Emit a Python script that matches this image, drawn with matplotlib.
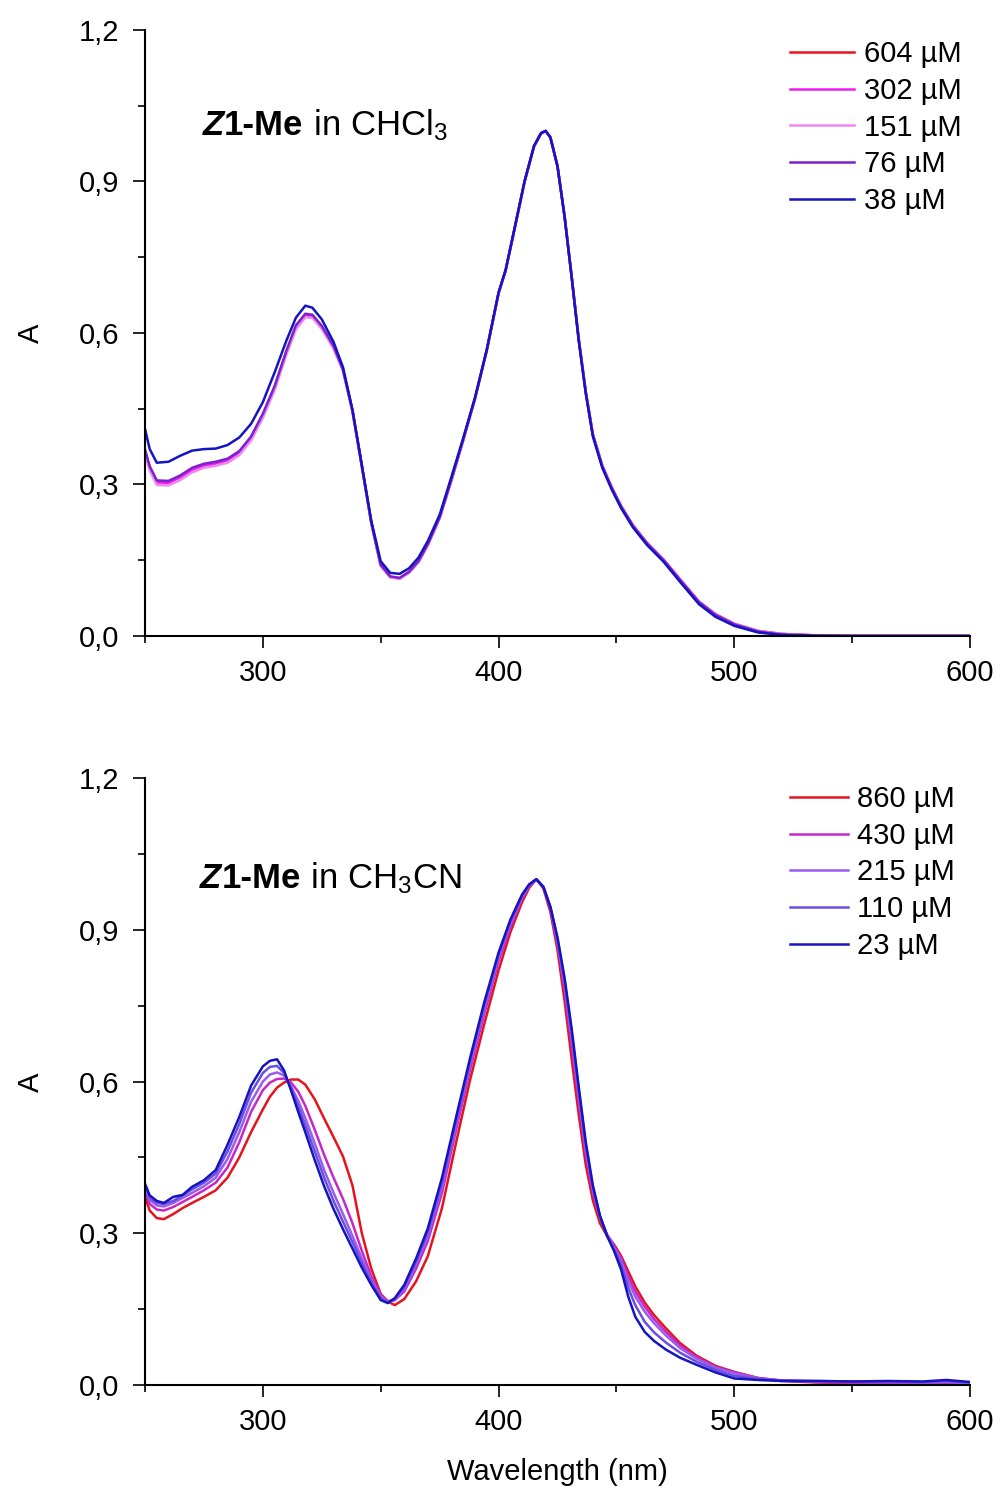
import matplotlib
matplotlib.use("Agg")
import matplotlib.pyplot as plt
from matplotlib.ticker import MultipleLocator, FuncFormatter
from matplotlib.offsetbox import TextArea, HPacker, AnchoredOffsetbox

plt.rcParams['font.family'] = ['Liberation Sans', 'DejaVu Sans']
plt.rcParams['mathtext.fontset'] = 'custom'
plt.rcParams['mathtext.rm'] = 'Liberation Sans'
plt.rcParams['mathtext.it'] = 'Liberation Sans:italic'
plt.rcParams['mathtext.bf'] = 'Liberation Sans:bold'

# ---- Z1-Me in CHCl3 (top panel) ----
wl_top = [250, 252, 255, 260, 265, 270, 275, 280, 285, 290, 295, 300, 305, 310, 314, 318,
          321, 325, 330, 334, 338, 342, 346, 350, 354, 358, 362, 366, 370, 375, 380, 385,
          390, 395, 400, 403, 407, 411, 415, 418, 420, 422, 425, 428, 431, 434, 437, 440,
          444, 448, 452, 457, 463, 470, 477, 485, 492, 500, 510, 520, 535, 550, 575, 600]

top_604 = [0.367, 0.333, 0.305, 0.304, 0.315, 0.330, 0.338, 0.342, 0.348, 0.363, 0.392, 0.437,
           0.492, 0.562, 0.612, 0.636, 0.634, 0.612, 0.572, 0.527, 0.446, 0.336, 0.224, 0.140,
           0.117, 0.114, 0.126, 0.147, 0.181, 0.234, 0.309, 0.388, 0.470, 0.566, 0.679, 0.724,
           0.811, 0.899, 0.969, 0.995, 1.000, 0.987, 0.930, 0.831, 0.712, 0.588, 0.483, 0.399,
           0.337, 0.294, 0.257, 0.219, 0.184, 0.151, 0.112, 0.068, 0.043, 0.024, 0.010, 0.004,
           0.001, 0.000, 0.000, 0.000]
top_302 = [0.366, 0.332, 0.304, 0.303, 0.314, 0.329, 0.337, 0.341, 0.347, 0.362, 0.391, 0.436,
           0.491, 0.561, 0.611, 0.635, 0.633, 0.611, 0.571, 0.526, 0.446, 0.336, 0.224, 0.140,
           0.117, 0.114, 0.126, 0.147, 0.181, 0.234, 0.309, 0.388, 0.470, 0.566, 0.679, 0.724,
           0.811, 0.899, 0.969, 0.995, 1.000, 0.987, 0.930, 0.831, 0.712, 0.588, 0.483, 0.399,
           0.337, 0.294, 0.257, 0.219, 0.184, 0.151, 0.112, 0.068, 0.043, 0.024, 0.010, 0.004,
           0.001, 0.000, 0.000, 0.000]
top_151 = [0.362, 0.328, 0.299, 0.298, 0.309, 0.324, 0.333, 0.337, 0.343, 0.358, 0.387, 0.432,
           0.487, 0.557, 0.607, 0.631, 0.630, 0.608, 0.569, 0.525, 0.445, 0.335, 0.223, 0.139,
           0.116, 0.113, 0.125, 0.146, 0.180, 0.233, 0.308, 0.387, 0.469, 0.565, 0.678, 0.723,
           0.810, 0.898, 0.968, 0.995, 1.000, 0.987, 0.930, 0.831, 0.712, 0.588, 0.483, 0.399,
           0.337, 0.294, 0.257, 0.219, 0.184, 0.151, 0.112, 0.068, 0.043, 0.024, 0.010, 0.004,
           0.001, 0.000, 0.000, 0.000]
top_76 = [0.369, 0.336, 0.308, 0.307, 0.318, 0.333, 0.341, 0.345, 0.351, 0.366, 0.395, 0.440,
          0.495, 0.565, 0.615, 0.638, 0.636, 0.614, 0.574, 0.528, 0.447, 0.337, 0.225, 0.141,
          0.118, 0.115, 0.127, 0.148, 0.182, 0.235, 0.310, 0.389, 0.471, 0.566, 0.679, 0.724,
          0.811, 0.899, 0.969, 0.995, 1.000, 0.987, 0.930, 0.831, 0.712, 0.587, 0.482, 0.398,
          0.336, 0.293, 0.256, 0.218, 0.183, 0.150, 0.111, 0.067, 0.042, 0.023, 0.009, 0.003,
          0.001, 0.000, 0.000, 0.000]
top_38 = [0.410, 0.370, 0.343, 0.345, 0.357, 0.367, 0.370, 0.371, 0.378, 0.393, 0.420, 0.463,
          0.522, 0.585, 0.630, 0.654, 0.650, 0.627, 0.582, 0.532, 0.448, 0.338, 0.228, 0.148,
          0.125, 0.123, 0.134, 0.155, 0.188, 0.240, 0.315, 0.392, 0.472, 0.567, 0.680, 0.725,
          0.812, 0.900, 0.970, 0.996, 1.000, 0.987, 0.930, 0.830, 0.710, 0.585, 0.480, 0.395,
          0.333, 0.290, 0.253, 0.215, 0.180, 0.147, 0.107, 0.063, 0.038, 0.020, 0.007, 0.002,
          0.000, 0.000, 0.000, 0.000]

top_labels = ['604 µM', '302 µM', '151 µM', '76 µM', '38 µM']
top_colors = ['#e5141c', '#f01cf0', '#ee88ee', '#7a22cc', '#1414c0']

# ---- Z1-Me in CH3CN (bottom panel) ----
wl_bot = [250, 252, 255, 258, 262, 266, 270, 275, 280, 285, 290, 295, 300, 303, 306, 309,
          312, 315, 318, 322, 326, 330, 334, 338, 342, 346, 350, 353, 356, 360, 365, 370,
          376, 382, 388, 394, 400, 405, 410, 413, 416, 419, 422, 425, 428, 431, 434, 437,
          440, 443, 446, 449, 452, 455, 458, 462, 466, 471, 477, 484, 492, 500, 510, 520,
          535, 550, 565, 580, 590, 600]

bot_860 = [0.372, 0.345, 0.330, 0.328, 0.338, 0.350, 0.360, 0.372, 0.385, 0.410, 0.450, 0.500,
           0.545, 0.570, 0.588, 0.598, 0.604, 0.604, 0.594, 0.565, 0.527, 0.490, 0.452, 0.395,
           0.300, 0.230, 0.180, 0.165, 0.158, 0.170, 0.205, 0.255, 0.350, 0.480, 0.605, 0.715,
           0.820, 0.895, 0.955, 0.983, 1.000, 0.982, 0.935, 0.860, 0.760, 0.645, 0.535, 0.435,
           0.365, 0.320, 0.295, 0.278, 0.255, 0.225, 0.195, 0.163, 0.138, 0.112, 0.083, 0.058,
           0.038, 0.026, 0.014, 0.008, 0.005, 0.004, 0.003, 0.003, 0.002, 0.002]
bot_430 = [0.385, 0.358, 0.347, 0.345, 0.352, 0.362, 0.372, 0.385, 0.400, 0.430, 0.480, 0.540,
           0.583, 0.598, 0.605, 0.606, 0.598, 0.580, 0.552, 0.505, 0.455, 0.410, 0.368, 0.320,
           0.265, 0.215, 0.178, 0.166, 0.168, 0.185, 0.230, 0.285, 0.380, 0.505, 0.625, 0.735,
           0.838, 0.905, 0.962, 0.986, 1.000, 0.985, 0.942, 0.872, 0.782, 0.672, 0.560, 0.455,
           0.380, 0.330, 0.298, 0.275, 0.250, 0.215, 0.185, 0.155, 0.130, 0.105, 0.078, 0.055,
           0.036, 0.025, 0.014, 0.009, 0.006, 0.005, 0.004, 0.004, 0.003, 0.003]
bot_215 = [0.392, 0.366, 0.355, 0.353, 0.360, 0.370, 0.380, 0.393, 0.410, 0.447, 0.500, 0.560,
           0.600, 0.614, 0.618, 0.612, 0.590, 0.562, 0.528, 0.478, 0.425, 0.380, 0.338, 0.295,
           0.250, 0.208, 0.174, 0.164, 0.168, 0.190, 0.238, 0.295, 0.392, 0.515, 0.635, 0.745,
           0.845, 0.912, 0.965, 0.988, 1.000, 0.985, 0.944, 0.878, 0.792, 0.688, 0.575, 0.467,
           0.387, 0.332, 0.297, 0.272, 0.245, 0.205, 0.175, 0.145, 0.122, 0.098, 0.073, 0.052,
           0.034, 0.023, 0.013, 0.009, 0.007, 0.006, 0.006, 0.005, 0.006, 0.004]
bot_110 = [0.395, 0.370, 0.360, 0.358, 0.364, 0.375, 0.387, 0.400, 0.418, 0.462, 0.516, 0.578,
           0.617, 0.629, 0.631, 0.617, 0.586, 0.551, 0.514, 0.462, 0.410, 0.364, 0.323, 0.283,
           0.241, 0.203, 0.171, 0.163, 0.170, 0.194, 0.244, 0.303, 0.401, 0.522, 0.642, 0.752,
           0.850, 0.916, 0.968, 0.989, 1.000, 0.985, 0.945, 0.882, 0.799, 0.697, 0.583, 0.474,
           0.391, 0.334, 0.296, 0.268, 0.238, 0.192, 0.158, 0.125, 0.104, 0.084, 0.064, 0.046,
           0.030, 0.018, 0.012, 0.009, 0.008, 0.007, 0.007, 0.006, 0.008, 0.005]
bot_23 = [0.398, 0.375, 0.364, 0.360, 0.372, 0.376, 0.392, 0.405, 0.425, 0.475, 0.530, 0.592,
          0.630, 0.641, 0.644, 0.622, 0.582, 0.540, 0.500, 0.445, 0.393, 0.348, 0.308, 0.270,
          0.232, 0.198, 0.168, 0.162, 0.172, 0.198, 0.250, 0.310, 0.410, 0.530, 0.648, 0.758,
          0.855, 0.920, 0.970, 0.990, 1.000, 0.985, 0.945, 0.885, 0.805, 0.705, 0.590, 0.480,
          0.395, 0.335, 0.295, 0.265, 0.228, 0.175, 0.135, 0.105, 0.087, 0.070, 0.054, 0.040,
          0.025, 0.013, 0.010, 0.008, 0.008, 0.007, 0.008, 0.007, 0.010, 0.006]

bot_labels = ['860 µM', '430 µM', '215 µM', '110 µM', '23 µM']
bot_colors = ['#e5141c', '#c826c8', '#9a5cf0', '#6a4ee0', '#1414c0']

FS = 21

fig = plt.figure(figsize=(10, 14.88), dpi=100)
ax1 = fig.add_axes([0.145, 0.5726, 0.825, 0.4073])
ax2 = fig.add_axes([0.145, 0.0692, 0.825, 0.4079])

for y, lab, col in zip([top_604, top_302, top_151, top_76, top_38], top_labels, top_colors):
    ax1.plot(wl_top, y, color=col, lw=1.8, label=lab)
for y, lab, col in zip([bot_860, bot_430, bot_215, bot_110, bot_23], bot_labels, bot_colors):
    ax2.plot(wl_bot, y, color=col, lw=1.8, label=lab)

comma = FuncFormatter(lambda v, p: ('%.1f' % v).replace('.', ','))
for ax in (ax1, ax2):
    ax.set_xlim(250, 600)
    ax.set_ylim(0, 1.2)
    ax.spines['top'].set_visible(False)
    ax.spines['right'].set_visible(False)
    ax.spines['left'].set_linewidth(1.5)
    ax.spines['bottom'].set_linewidth(1.5)
    ax.xaxis.set_major_locator(MultipleLocator(100))
    ax.xaxis.set_minor_locator(MultipleLocator(50))
    ax.yaxis.set_major_locator(MultipleLocator(0.3))
    ax.yaxis.set_minor_locator(MultipleLocator(0.15))
    ax.yaxis.set_major_formatter(comma)
    ax.tick_params(which='major', length=8.5, width=1.2, labelsize=FS)
    ax.tick_params(which='minor', length=5, width=1.2)
    ax.tick_params(axis='x', which='major', pad=8)
    ax.tick_params(axis='y', which='major', pad=10)

# legends
ax1.legend(loc='upper left', bbox_to_anchor=(0.790, 1 - 40 / 1488), bbox_transform=fig.transFigure,
           frameon=False, fontsize=FS, handlelength=2.2, handletextpad=0.35, labelspacing=0.3,
           borderpad=0, borderaxespad=0)
ax2.legend(loc='upper left', bbox_to_anchor=(0.790, 1 - 785 / 1488), bbox_transform=fig.transFigure,
           frameon=False, fontsize=FS, handlelength=2.0, handletextpad=0.3, labelspacing=0.3,
           borderpad=0, borderaxespad=0)


def compound_label(ax, x_px, y_px, solvent):
    parts = [
        TextArea('Z', textprops=dict(fontsize=25, fontweight='bold', fontstyle='italic')),
        TextArea('1-Me', textprops=dict(fontsize=25, fontweight='bold')),
        TextArea(' in ' + solvent, textprops=dict(fontsize=25)),
    ]
    box = HPacker(children=parts, align='baseline', pad=0, sep=0)
    anch = AnchoredOffsetbox(loc='lower left', child=box, pad=0, borderpad=0, frameon=False,
                             bbox_to_anchor=(x_px / 1000, 1 - y_px / 1488),
                             bbox_transform=fig.transFigure)
    ax.add_artist(anch)


compound_label(ax1, 203, 143, r'CHCl$_3$')
compound_label(ax2, 200, 896, r'CH$_3$CN')

# axis labels
fig.text(0.031, 1 - 333 / 1488, 'A', rotation=90, ha='center', va='center', fontsize=FS)
fig.text(0.031, 1 - 1082 / 1488, 'A', rotation=90, ha='center', va='center', fontsize=FS)
fig.text(0.5575, 1 - 1472 / 1488, 'Wavelength (nm)', ha='center', va='center', fontsize=FS)

fig.savefig('out.png', dpi=100)
